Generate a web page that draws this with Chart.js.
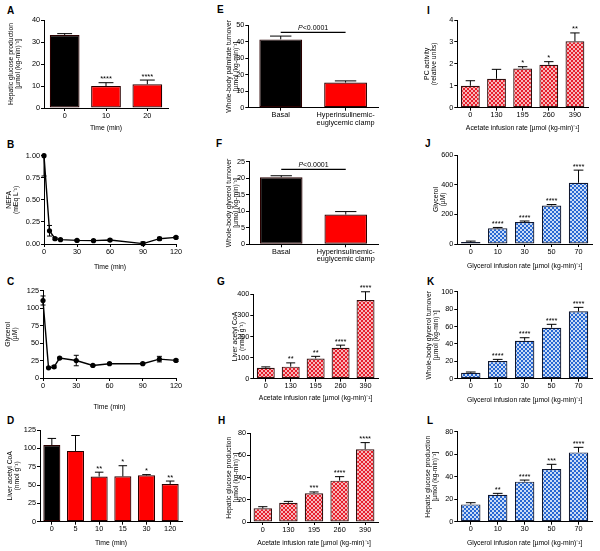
<!DOCTYPE html>
<html><head><meta charset="utf-8">
<script src="https://cdn.jsdelivr.net/npm/chart.js@4/dist/chart.umd.min.js"></script>
<style>
html,body{margin:0;padding:0;background:#fff;width:600px;height:551px;overflow:hidden;position:relative;font-family:"Liberation Sans",Arial,sans-serif}
canvas{position:absolute}
.lt{position:absolute;font-weight:bold;font-size:10px;line-height:1;color:#000;font-family:"Liberation Sans",Arial,sans-serif}
</style></head><body>
<div class="lt" style="left:7px;top:6px">A</div>
<div class="lt" style="left:7px;top:140px">B</div>
<div class="lt" style="left:7px;top:276.5px">C</div>
<div class="lt" style="left:7px;top:415.7px">D</div>
<div class="lt" style="left:217px;top:5px">E</div>
<div class="lt" style="left:216px;top:138.5px">F</div>
<div class="lt" style="left:217px;top:276.5px">G</div>
<div class="lt" style="left:218px;top:415.7px">H</div>
<div class="lt" style="left:427px;top:5.7px">I</div>
<div class="lt" style="left:425px;top:138.5px">J</div>
<div class="lt" style="left:427px;top:276.5px">K</div>
<div class="lt" style="left:427px;top:415.7px">L</div>
<script>
// ---------------- DATA ----------------
const A_categories = ['0', '10', '20'];
const A_values = [33.2, 10.0, 10.8];
const A_errors = [0.6, 1.5, 1.9];
const A_stars = ['', '****', '****'];
const A_yTicks = [0, 10, 20, 30, 40];

const B_times = [0, 5, 10, 15, 30, 45, 60, 90, 105, 120];
const B_nefa = [1.00, 0.15, 0.06, 0.049, 0.041, 0.038, 0.045, 0.004, 0.06, 0.075];
const B_errors = [0.23, 0.06, 0.012, 0.006, 0.008, 0.006, 0.01, 0.02, 0.016, 0.01];
const B_yTicks = [0, 0.25, 0.5, 0.75, 1.0];
const B_xTicks = [0, 30, 60, 90, 120];

const C_times = [0, 5, 10, 15, 30, 45, 60, 90, 105, 120];
const C_glycerol = [111, 14.5, 16, 28.5, 25, 18, 20.5, 20.5, 27, 25.2];
const C_errors = [6.5, 1, 1.5, 1.2, 7.5, 1, 1, 1, 4, 1.5];
const C_yTicks = [0, 25, 50, 75, 100, 125];
const C_xTicks = [0, 30, 60, 90, 120];

const D_categories = ['0', '5', '10', '15', '30', '120'];
const D_values = [104.5, 96.5, 61.5, 61.8, 63.2, 51.4];
const D_errors = [9, 21, 6, 14.5, 1, 4];
const D_stars = ['', '', '**', '*', '*', '**'];
const D_yTicks = [0, 25, 50, 75, 100, 125];

const E_categories = ['Basal', ['Hyperinsulinemic-', 'euglycemic clamp']];
const E_values = [41.3, 15.2];
const E_errors = [2.0, 1.0];
const E_pText = 'P<0.0001';
const E_pLevel = 45.5;
const E_yTicks = [0, 10, 20, 30, 40, 50];

const F_categories = ['Basal', ['Hyperinsulinemic-', 'euglycemic clamp']];
const F_values = [20.3, 9.0];
const F_errors = [0.45, 0.9];
const F_pText = 'P<0.0001';
const F_pLevel = 22.7;
const F_yTicks = [0, 5, 10, 15, 20, 25];

const G_categories = ['0', '130', '195', '260', '390'];
const G_values = [52, 57, 96, 147, 373];
const G_errors = [4, 18, 10, 12, 39];
const G_stars = ['', '**', '**', '****', '****'];
const G_yTicks = [0, 100, 200, 300, 400];

const H_categories = ['0', '130', '195', '260', '390'];
const H_values = [12.3, 17.4, 25.9, 37.3, 65.6];
const H_errors = [1.5, 1.2, 1.2, 3.6, 6];
const H_stars = ['', '', '***', '****', '****'];
const H_yTicks = [0, 20, 40, 60, 80];

const I_categories = ['0', '130', '195', '260', '390'];
const I_values = [1.0, 1.32, 1.79, 1.96, 3.03];
const I_errors = [0.23, 0.43, 0.08, 0.14, 0.38];
const I_stars = ['', '', '*', '*', '**'];
const I_yTicks = [0, 1, 2, 3, 4];

const J_categories = ['0', '10', '30', '50', '70'];
const J_values = [13.5, 105.6, 148, 260, 413];
const J_errors = [6, 6, 7, 6, 85];
const J_stars = ['', '****', '****', '****', '****'];
const J_yTicks = [0, 200, 400, 600];

const K_categories = ['0', '10', '30', '50', '70'];
const K_values = [6.9, 20.3, 43.7, 58.6, 77.4];
const K_errors = [0.8, 1.9, 3.4, 3.9, 4.6];
const K_stars = ['', '****', '****', '****', '****'];
const K_yTicks = [0, 20, 40, 60, 80, 100];

const L_categories = ['0', '10', '30', '50', '70'];
const L_values = [15.4, 24, 35.6, 46.8, 61.6];
const L_errors = [1.5, 1.2, 1.4, 4.2, 4.5];
const L_stars = ['', '**', '****', '***', '****'];
const L_yTicks = [0, 20, 40, 60, 80];

const HGP_title = ['Hepatic glucose production', '[\u00b5mol (kg-min)\u207b\u00b9]'];
const TIME_title = 'Time (min)';
const ACE_title = 'Acetate infusion rate [\u00b5mol (kg-min)\u207b\u00b9]';
const GLY_title = 'Glycerol infusion rate [\u00b5mol (kg-min)\u207b\u00b9]';

// ---------------- STYLE ----------------
const FONT = '"Liberation Sans", Arial, sans-serif';
const TFS = 6.8, TLH = 1.12;
const TICKFS = 7.3;
function checker(c1, c2) {
  const p = document.createElement('canvas'); p.width = 4; p.height = 4;
  const g = p.getContext('2d');
  g.fillStyle = c2; g.fillRect(0, 0, 4, 4);
  g.fillStyle = c1; g.fillRect(0, 0, 2, 2); g.fillRect(2, 2, 2, 2);
  return g.createPattern(p, 'repeat');
}
const STYLES = {
  ctrl: { fill: i => i === 0 ? '#000000' : '#ff0000', edge: '#2a0000' },
  redcheck: { fill: () => checker('#e61f2b', '#f7b6b9'), edge: '#301010' },
  bluecheck: { fill: () => checker('#2767d2', '#c9dbf5'), edge: '#101830' }
};

const annotPlugin = {
  id: 'annot',
  afterDatasetsDraw(chart) {
    const P = chart.$panel; if (!P) return;
    const ctx = chart.ctx, ys = chart.scales.y, ca = chart.chartArea;
    const meta = chart.getDatasetMeta(0);
    ctx.save();
    ctx.strokeStyle = '#000'; ctx.lineWidth = 1; ctx.fillStyle = '#000';
    meta.data.forEach((el, i) => {
      const v = P.vals[i], e = P.errs[i], x = el.x;
      if (P.kind === 'bar') {
        const yb = ys.getPixelForValue(v), yt = ys.getPixelForValue(v + e);
        const cw = el.width * 0.5;
        ctx.beginPath();
        ctx.moveTo(x, yb); ctx.lineTo(x, yt);
        ctx.moveTo(x - cw / 2, yt); ctx.lineTo(x + cw / 2, yt);
        ctx.stroke();
        if (P.stars && P.stars[i]) {
          ctx.font = '7.5px ' + FONT; ctx.textAlign = 'center'; ctx.textBaseline = 'alphabetic';
          ctx.fillText(P.stars[i], x, yt - 1.5);
        }
      } else {
        const y1 = ys.getPixelForValue(v + e), y2 = ys.getPixelForValue(v - e);
        const cw = 5;
        ctx.beginPath();
        const top = Math.max(y1, ca.top), bot = Math.min(y2, ca.bottom);
        ctx.moveTo(x, top); ctx.lineTo(x, bot);
        if (y1 >= ca.top) { ctx.moveTo(x - cw / 2, y1); ctx.lineTo(x + cw / 2, y1); }
        if (y2 <= ca.bottom) { ctx.moveTo(x - cw / 2, y2); ctx.lineTo(x + cw / 2, y2); }
        ctx.stroke();
      }
    });
    if (P.pText) {
      const x1 = meta.data[0].x, x2 = meta.data[1].x, y = ys.getPixelForValue(P.pLevel);
      ctx.lineWidth = 1.2;
      ctx.beginPath(); ctx.moveTo(x1, y); ctx.lineTo(x2, y); ctx.stroke();
      const it = 'italic 7px ' + FONT, rg = '7px ' + FONT;
      ctx.font = it; const w1 = ctx.measureText(P.pText[0]).width;
      ctx.font = rg; const w2 = ctx.measureText(P.pText.slice(1)).width;
      const sx = (x1 + x2) / 2 - (w1 + w2) / 2;
      ctx.textAlign = 'left'; ctx.textBaseline = 'alphabetic';
      ctx.font = it; ctx.fillText(P.pText[0], sx, y - 2.5);
      ctx.font = rg; ctx.fillText(P.pText.slice(1), sx + w1, y - 2.5);
    }
    ctx.restore();
  }
};

function makePanel(P) {
  const lh = TFS * TLH;
  const padTop = 16, padRight = 12;
  const cx = Math.round(P.ytx - lh / 2);
  const cy = Math.round(P.box.t - padTop);
  const bottom = P.xty != null ? P.xty + lh / 2 : P.box.b + P.xh;
  const cw = Math.round(P.box.r + padRight - cx);
  const ch = Math.round(bottom - cy);
  const yW = P.box.l - cx;
  const topPad = P.box.t - cy;
  const xH = ch - topPad - (P.box.b - P.box.t);
  const cv = document.createElement('canvas');
  cv.width = cw; cv.height = ch;
  cv.style.left = cx + 'px'; cv.style.top = cy + 'px';
  cv.style.width = cw + 'px'; cv.style.height = ch + 'px';
  document.body.appendChild(cv);

  const tickFont = { family: FONT, size: TICKFS, lineHeight: 1.0 };
  const titleFont = { family: FONT, size: TFS, lineHeight: TLH };
  const yt = P.yTicks;
  const axisCommon = {
    border: { display: true, color: '#000', width: 1 },
    grid: { display: true, drawOnChartArea: false, drawTicks: true, tickLength: 3, color: '#000', lineWidth: 1 }
  };
  const yScale = Object.assign({}, axisCommon, {
    type: 'linear', min: yt[0], max: yt[yt.length - 1],
    ticks: { stepSize: yt[1] - yt[0], color: '#000', font: tickFont, padding: 1,
      callback: P.yFmt || (v => String(v)) },
    title: { display: true, text: P.yTitle, color: '#000', font: titleFont, padding: 0 },
    afterFit: s => { s.width = yW; s.paddingTop = 0; s.paddingBottom = 0; }
  });
  let xScale, datasets;
  if (P.kind === 'bar') {
    const st = STYLES[P.style];
    const fills = P.vals.map((_, i) => st.fill(i));
    xScale = Object.assign({}, axisCommon, {
      type: 'category', offset: true,
      grid: Object.assign({}, axisCommon.grid, { offset: false }),
      ticks: { color: '#000', font: tickFont, padding: 1, maxRotation: 0, autoSkip: false }
    });
    datasets = [{ data: P.vals, backgroundColor: fills, borderColor: st.edge, borderWidth: 1.2,
      borderSkipped: false, barPercentage: P.barPct || 0.72, categoryPercentage: 1 }];
  } else {
    const xt = P.xTicks;
    xScale = Object.assign({}, axisCommon, {
      type: 'linear', min: xt[0], max: xt[xt.length - 1],
      ticks: { stepSize: xt[1] - xt[0], color: '#000', font: tickFont, padding: 1 }
    });
    datasets = [{ data: P.xs.map((t, i) => ({ x: t, y: P.vals[i] })), borderColor: '#000', borderWidth: 1.4,
      pointRadius: 2.6, pointBackgroundColor: '#000', pointBorderColor: '#000', pointBorderWidth: 0,
      tension: 0, clip: false, fill: false }];
  }
  xScale.afterFit = s => { s.height = xH; s.paddingLeft = 0; s.paddingRight = 0; };
  if (P.xTitle) xScale.title = { display: true, text: P.xTitle, color: '#000', font: titleFont, padding: 0 };

  return new Chart(cv, {
    type: P.kind,
    data: { labels: P.cats || undefined, datasets },
    options: {
      responsive: false, maintainAspectRatio: false, devicePixelRatio: 1, animation: false,
      layout: { padding: { top: topPad, right: padRight, left: 0, bottom: 0 } },
      plugins: { legend: { display: false }, tooltip: { enabled: false }, title: { display: false } },
      scales: { x: xScale, y: yScale }
    },
    plugins: [{ id: 'bind', beforeInit(c) { c.$panel = P; } }, annotPlugin]
  });
}

const panels = [
  { kind: 'bar', style: 'ctrl', cats: A_categories, vals: A_values, errs: A_errors, stars: A_stars, yTicks: A_yTicks,
    yTitle: HGP_title, xTitle: TIME_title, box: { l: 44, r: 168, t: 20, b: 108 }, ytx: 10.5, xty: 128 },
  { kind: 'line', xs: B_times, vals: B_nefa, errs: B_errors, yTicks: B_yTicks, xTicks: B_xTicks, yFmt: v => v.toFixed(2),
    yTitle: ['NEFA', '(mEq L\u207b\u00b9)'], xTitle: TIME_title, box: { l: 44, r: 176, t: 155.7, b: 244 }, ytx: 8.8, xty: 267 },
  { kind: 'line', xs: C_times, vals: C_glycerol, errs: C_errors, yTicks: C_yTicks, xTicks: C_xTicks,
    yTitle: ['Glycerol', '(\u00b5M)'], xTitle: TIME_title, box: { l: 43, r: 176, t: 290.7, b: 378 }, ytx: 8, xty: 407 },
  { kind: 'bar', style: 'ctrl', cats: D_categories, vals: D_values, errs: D_errors, stars: D_stars, yTicks: D_yTicks,
    yTitle: ['Liver acetyl CoA', '(nmol g\u207b\u00b9)'], xTitle: TIME_title, box: { l: 40, r: 182, t: 430, b: 521.7 }, ytx: 9.5, xty: 543 },
  { kind: 'bar', style: 'ctrl', cats: E_categories, vals: E_values, errs: E_errors, pText: E_pText, pLevel: E_pLevel, yTicks: E_yTicks, barPct: 0.66,
    yTitle: ['Whole-body palmitate turnover', '[\u00b5mol (kg-min)\u207b\u00b9]'], box: { l: 248.3, r: 378, t: 25, b: 107.7 }, ytx: 229.3, xh: 26 },
  { kind: 'bar', style: 'ctrl', cats: F_categories, vals: F_values, errs: F_errors, pText: F_pText, pLevel: F_pLevel, yTicks: F_yTicks, barPct: 0.66,
    yTitle: ['Whole-body glycerol turnover', '[\u00b5mol (kg-min)\u207b\u00b9]'], box: { l: 249, r: 378, t: 161.7, b: 244.3 }, ytx: 228.5, xh: 26 },
  { kind: 'bar', style: 'redcheck', cats: G_categories, vals: G_values, errs: G_errors, stars: G_stars, yTicks: G_yTicks,
    yTitle: ['Liver acetyl CoA', '(nmol g\u207b\u00b9)'], xTitle: ACE_title, box: { l: 253.3, r: 378, t: 294.3, b: 378.7 }, ytx: 235, xty: 398 },
  { kind: 'bar', style: 'redcheck', cats: H_categories, vals: H_values, errs: H_errors, stars: H_stars, yTicks: H_yTicks,
    yTitle: HGP_title, xTitle: ACE_title, box: { l: 250, r: 378, t: 433.3, b: 522 }, ytx: 228.5, xty: 543 },
  { kind: 'bar', style: 'redcheck', cats: I_categories, vals: I_values, errs: I_errors, stars: I_stars, yTicks: I_yTicks,
    yTitle: ['PC activity', '(relative units)'], xTitle: ACE_title, box: { l: 457.3, r: 588, t: 20, b: 107.7 }, ytx: 426.5, xty: 128 },
  { kind: 'bar', style: 'bluecheck', cats: J_categories, vals: J_values, errs: J_errors, stars: J_stars, yTicks: J_yTicks,
    yTitle: ['Glycerol', '(\u00b5M)'], xTitle: GLY_title, box: { l: 457.3, r: 592, t: 155, b: 244 }, ytx: 435.5, xty: 265.7 },
  { kind: 'bar', style: 'bluecheck', cats: K_categories, vals: K_values, errs: K_errors, stars: K_stars, yTicks: K_yTicks,
    yTitle: ['Whole-body glycerol turnover', '[\u00b5mol (kg-min)\u207b\u00b9]'], xTitle: GLY_title, box: { l: 457.3, r: 592, t: 291.7, b: 378.7 }, ytx: 428.5, xty: 400 },
  { kind: 'bar', style: 'bluecheck', cats: L_categories, vals: L_values, errs: L_errors, stars: L_stars, yTicks: L_yTicks,
    yTitle: HGP_title, xTitle: GLY_title, box: { l: 457.3, r: 592, t: 431.7, b: 521.7 }, ytx: 427.5, xty: 542.7 }
];
panels.forEach(makePanel);
</script></body></html>
